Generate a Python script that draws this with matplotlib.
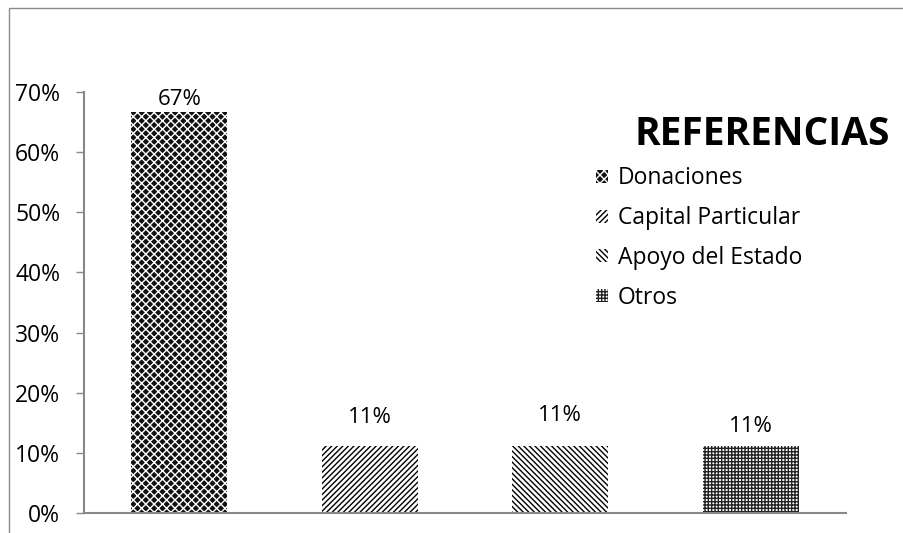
import matplotlib.pyplot as plt
from matplotlib.patches import Rectangle
from matplotlib.ticker import PercentFormatter

# datos
categorias = ['Donaciones', 'Capital Particular', 'Apoyo del Estado', 'Otros']
valores = [0.667, 0.111, 0.111, 0.111]
etiquetas = ['67%', '11%', '11%', '11%']

# estilos de relleno (Excel usa tramas)
fondos = ['#111111', 'white', 'white', 'white']
tramas = ['xxxx', '//////', '\\\\\\\\\\\\', '+++++']
colores_trama = ['white', 'black', 'black', '#222222']
desplaz = [9, 21, 22, 14]  # separacion de las etiquetas, en puntos

plt.rcParams['font.family'] = ['Open Sans', 'DejaVu Sans']
plt.rcParams['hatch.linewidth'] = 1.0

fig = plt.figure(figsize=(9.04, 5.33), dpi=100)
ax = fig.add_axes([0.0929, 0.0375, 0.8429, 0.79])

for i, (v, fc, h, hc) in enumerate(zip(valores, fondos, tramas, colores_trama)):
    ax.bar(i, v, width=0.505, color=fc, edgecolor=hc, hatch=h,
           linewidth=0, label=categorias[i])
    ax.annotate(etiquetas[i], xy=(i, v), xytext=(0, desplaz[i]),
                textcoords='offset points', ha='center', va='center',
                fontsize=16)

ax.set_xlim(-0.5, 3.5)
ax.set_ylim(0, 0.7)
ax.set_yticks([0, 0.1, 0.2, 0.3, 0.4, 0.5, 0.6, 0.7])
ax.yaxis.set_major_formatter(PercentFormatter(1.0, decimals=0))
ax.set_xticks([])
for s in ['top', 'right']:
    ax.spines[s].set_visible(False)
for s in ['left', 'bottom']:
    ax.spines[s].set_color('#888888')
    ax.spines[s].set_linewidth(1.5)
ax.tick_params(axis='y', length=6, width=1, color='#888888',
               labelsize=16.5, pad=11)

# leyenda
fig.text(0.8435, 0.747, 'REFERENCIAS', fontsize=28, fontweight='bold',
         ha='center', va='center')
ax.legend(loc='upper left', bbox_to_anchor=(0.66, 0.845), frameon=False,
          fontsize=16.5, handlelength=0.5, handleheight=0.5,
          handletextpad=0.45, labelspacing=0.69, borderaxespad=0)

# marco del grafico
fig.patches.append(Rectangle((0.00996, -0.1), 1.2, 1.085, transform=fig.transFigure,
                             fill=False, edgecolor='#8c8c8c', linewidth=1))

fig.savefig('out.png', dpi=100)
